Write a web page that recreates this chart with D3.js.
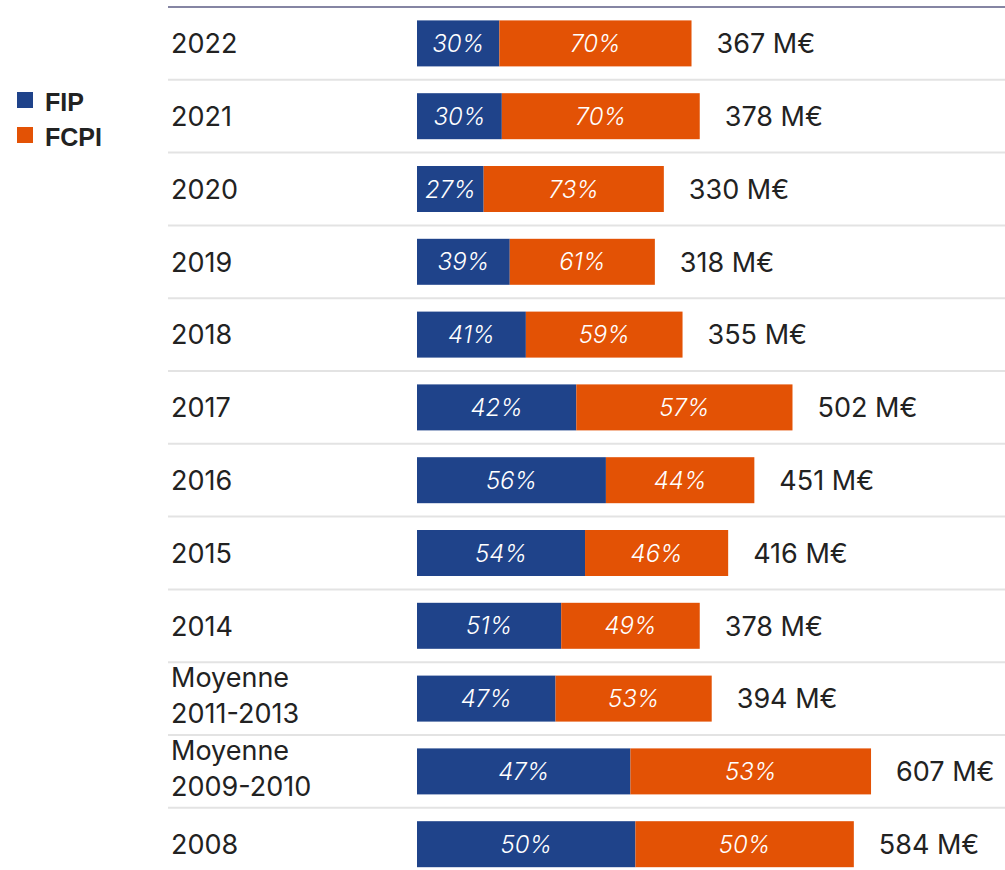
<!DOCTYPE html>
<html>
<head>
<meta charset="utf-8">
<script src="https://cdn.jsdelivr.net/npm/d3@7"></script>
<style>
  html, body { margin: 0; padding: 0; background: #fff; overflow: hidden; }
  svg { display: block; font-family: Inter, "Noto Sans", sans-serif; }
</style>
</head>
<body>
<script>
// data, top row first
var categories = ['2022', '2021', '2020', '2019', '2018', '2017', '2016', '2015', '2014',
  'Moyenne\n2011-2013', 'Moyenne\n2009-2010', '2008'];
var fipPct = [30, 30, 27, 39, 41, 42, 56, 54, 51, 47, 47, 50];
var fcpiPct = [70, 70, 73, 61, 59, 57, 44, 46, 49, 53, 53, 50];
var totals = [367, 378, 330, 318, 355, 502, 451, 416, 378, 394, 607, 584];
var series = ['FIP', 'FCPI'];

var width = 1005, height = 870;
var colors = { FIP: '#1f438a', FCPI: '#e35205' };

var svg = d3.select('body').append('svg')
  .attr('width', width)
  .attr('height', height);

// one band per row
var y = d3.scaleBand()
  .domain(categories)
  .range([7, 7 + 12 * 72.8])
  .padding(0);

// millions of euros -> pixels
var x = d3.scaleLinear()
  .domain([0, 700])
  .range([417, 417 + 700 * 0.748]);

var barH = 46;

// row build: each bar is split by share of total
var rows = categories.map(function(c, i) {
  var sum = fipPct[i] + fcpiPct[i];
  var fipEnd = totals[i] * fipPct[i] / sum;
  return {
    cat: c,
    total: totals[i],
    segs: [
      { key: 'FIP', pct: fipPct[i], x0: 0, x1: fipEnd },
      { key: 'FCPI', pct: fcpiPct[i], x0: fipEnd, x1: totals[i] }
    ]
  };
});

// separators
svg.append('g')
  .selectAll('line')
  .data(categories.slice(1))
  .enter().append('line')
  .attr('x1', 168).attr('x2', width)
  .attr('y1', function(d) { return y(d); })
  .attr('y2', function(d) { return y(d); })
  .attr('stroke', '#e3e3e3')
  .attr('stroke-width', 2);

// top rule
svg.append('line')
  .attr('x1', 168).attr('x2', width)
  .attr('y1', y(categories[0])).attr('y2', y(categories[0]))
  .attr('stroke', '#8585a3')
  .attr('stroke-width', 2);

var row = svg.append('g')
  .selectAll('g')
  .data(rows)
  .enter().append('g')
  .attr('transform', function(d) { return 'translate(0,' + (y(d.cat) + y.bandwidth() / 2) + ')'; });

// category labels (may be two lines)
row.append('text')
  .attr('x', 171)
  .attr('font-size', 27)
  .attr('fill', '#222')
  .each(function(d) {
    var lines = d.cat.split('\n');
    var t = d3.select(this);
    var start = lines.length === 1 ? 0 : -21;
    lines.forEach(function(l, k) {
      t.append('tspan')
        .attr('x', 171)
        .attr('y', start + k * 36)
        .attr('dy', '0.36em')
        .text(l);
    });
  });

// bar segments
row.selectAll('rect')
  .data(function(d) { return d.segs; })
  .enter().append('rect')
  .attr('x', function(d) { return x(d.x0); })
  .attr('width', function(d) { return x(d.x1) - x(d.x0); })
  .attr('y', -barH / 2)
  .attr('height', barH)
  .attr('fill', function(d) { return colors[d.key]; });

// percent labels
row.selectAll('text.pct')
  .data(function(d) { return d.segs; })
  .enter().append('text')
  .attr('class', 'pct')
  .attr('x', function(d) { return (x(d.x0) + x(d.x1)) / 2; })
  .attr('dy', '0.36em')
  .attr('text-anchor', 'middle')
  .attr('font-size', 24)
  .attr('font-style', 'italic')
  .attr('font-weight', 300)
  .attr('fill', '#fff')
  .text(function(d) { return d.pct + '%'; });

// totals
row.append('text')
  .attr('x', function(d) { return x(d.total) + 25; })
  .attr('dy', '0.36em')
  .attr('font-size', 27)
  .attr('fill', '#222')
  .text(function(d) { return d.total + ' M€'; });

// legend
var legend = svg.append('g')
  .selectAll('g')
  .data(series)
  .enter().append('g')
  .attr('transform', function(d, i) { return 'translate(17,' + (92 + i * 35) + ')'; });

legend.append('rect')
  .attr('width', 16).attr('height', 16)
  .attr('fill', function(d) { return colors[d]; });

legend.append('text')
  .attr('x', 28)
  .attr('y', 10)
  .attr('dy', '0.36em')
  .attr('font-family', '"Liberation Sans", Arial, sans-serif')
  .attr('font-weight', 'bold')
  .attr('font-size', 25)
  .attr('fill', '#222')
  .text(function(d) { return d; });
</script>
</body>
</html>
